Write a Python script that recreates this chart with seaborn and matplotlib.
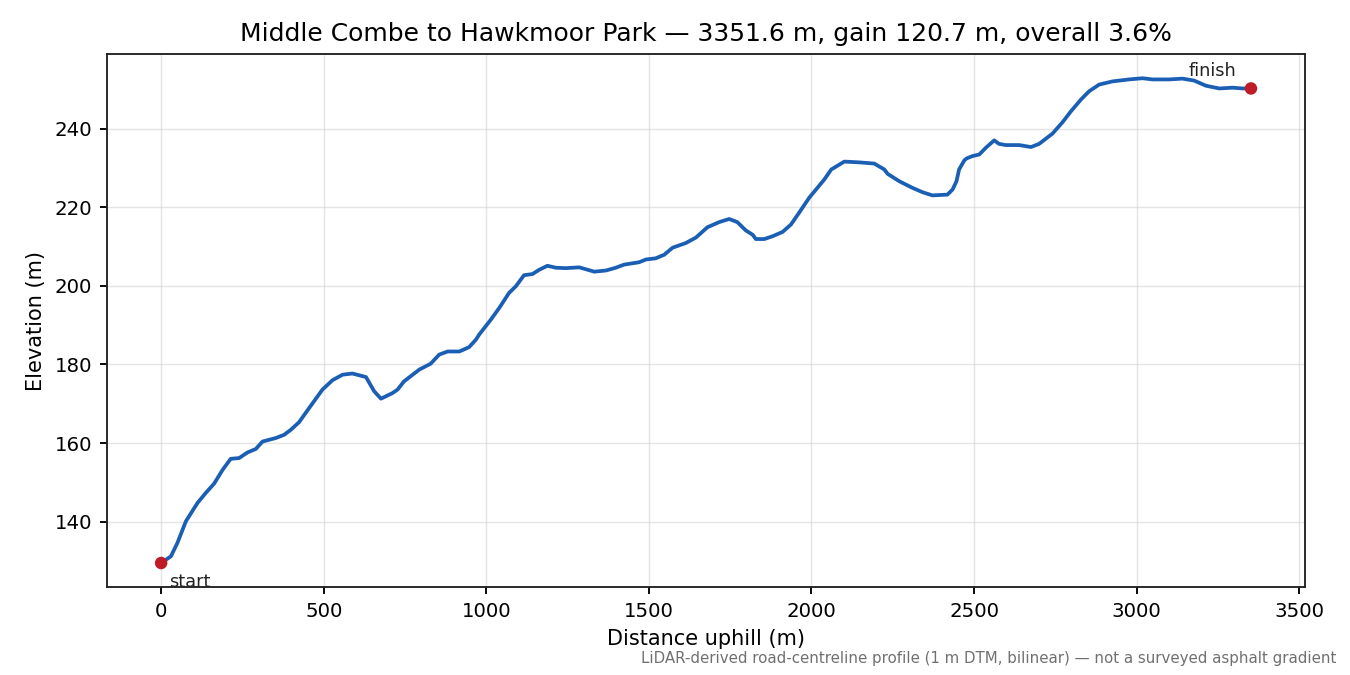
import matplotlib
matplotlib.use("Agg")
import matplotlib.pyplot as plt
import seaborn as sns
import pandas as pd

distance_m = [0, 30, 50, 76, 112, 137, 163, 189, 214, 240, 265, 291, 312, 353, 378, 399,
              424, 455, 496, 527, 558, 588, 630, 655, 676, 711, 727, 747, 794, 829, 855,
              881, 917, 947, 968, 978, 1014, 1040, 1070, 1091, 1116, 1142, 1163, 1188,
              1214, 1245, 1286, 1332, 1368, 1398, 1424, 1470, 1491, 1521, 1547, 1573,
              1614, 1645, 1680, 1716, 1747, 1772, 1798, 1819, 1829, 1855, 1880, 1911,
              1937, 1962, 1993, 2024, 2039, 2061, 2101, 2147, 2193, 2224, 2234, 2270,
              2311, 2342, 2372, 2418, 2434, 2446, 2454, 2470, 2477, 2495, 2516, 2536,
              2562, 2577, 2598, 2639, 2675, 2700, 2741, 2772, 2798, 2829, 2854, 2885,
              2926, 2977, 3018, 3049, 3100, 3141, 3177, 3213, 3254, 3295, 3326, 3351.6]
elevation_m = [129.5, 131.2, 134.6, 140.1, 144.8, 147.3, 149.7, 153.2, 156.0, 156.2, 157.6,
               158.5, 160.4, 161.3, 162.1, 163.4, 165.3, 168.9, 173.6, 176.0, 177.4, 177.7,
               176.8, 173.2, 171.3, 172.7, 173.6, 175.7, 178.7, 180.2, 182.5, 183.3, 183.3,
               184.4, 186.3, 187.6, 191.4, 194.4, 198.2, 199.9, 202.7, 203.0, 204.1, 205.1,
               204.6, 204.5, 204.7, 203.6, 203.9, 204.6, 205.4, 206.0, 206.7, 207.0, 207.9,
               209.7, 210.9, 212.3, 214.9, 216.2, 217.0, 216.2, 214.1, 213.0, 211.9, 211.9,
               212.6, 213.7, 215.6, 218.6, 222.4, 225.5, 227.0, 229.6, 231.6, 231.4, 231.1,
               229.6, 228.5, 226.6, 224.9, 223.8, 223.0, 223.2, 224.5, 226.6, 229.6, 231.9,
               232.4, 233.0, 233.4, 235.1, 237.0, 236.1, 235.8, 235.8, 235.3, 236.1, 238.7,
               241.6, 244.4, 247.4, 249.5, 251.2, 252.0, 252.5, 252.8, 252.5, 252.5, 252.7,
               252.2, 250.9, 250.2, 250.4, 250.2, 250.2]

title = "Middle Combe to Hawkmoor Park — 3351.6 m, gain 120.7 m, overall 3.6%"
x_label = "Distance uphill (m)"
y_label = "Elevation (m)"
footnote = "LiDAR-derived road-centreline profile (1 m DTM, bilinear) — not a surveyed asphalt gradient"

df = pd.DataFrame({"distance": distance_m, "elevation": elevation_m})
ends = df.iloc[[0, -1]]

sns.set_theme(style="ticks")
plt.rcParams["font.family"] = ["DejaVu Sans"]

fig, ax = plt.subplots(figsize=(9, 4.5), dpi=150)
sns.lineplot(data=df, x="distance", y="elevation", ax=ax, color="#1a5fb4", linewidth=1.8)
sns.scatterplot(data=ends, x="distance", y="elevation", ax=ax, color="#c01c28",
                s=36, zorder=5, edgecolor="none")

ax.annotate("start", (ends["distance"].iloc[0], ends["elevation"].iloc[0]),
            xytext=(4, -5), textcoords="offset points", ha="left", va="top", fontsize=8.5,
            color="#222222")
ax.annotate("finish", (ends["distance"].iloc[1], ends["elevation"].iloc[1]),
            xytext=(-7, 4), textcoords="offset points", ha="right", va="bottom", fontsize=8.5,
            color="#222222")

ax.grid(True, color="#cccccc", alpha=0.5, linewidth=0.7)
for s in ax.spines.values():
    s.set_color("#222222")
    s.set_linewidth(0.9)
ax.tick_params(colors="#000000", labelsize=9.5, width=0.9, length=3.5)
ax.set_title(title, fontsize=12, color="#000000")
ax.set_xlabel(x_label, fontsize=10, color="#000000")
ax.set_ylabel(y_label, fontsize=10, color="#000000")
ax.set_yticks([140, 160, 180, 200, 220, 240])

fig.subplots_adjust(left=0.079, right=0.967, top=0.92, bottom=0.13)
fig.text(0.99, 0.013, footnote, ha="right", va="bottom", fontsize=7.2, color="#707070")
fig.savefig("out.png", dpi=150)
